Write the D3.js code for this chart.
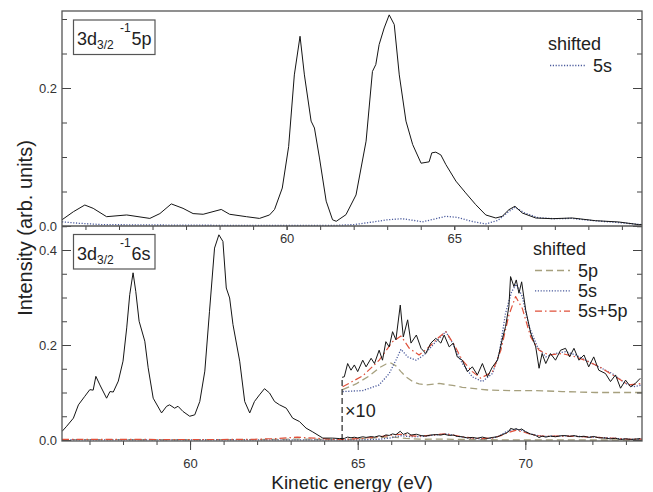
<!DOCTYPE html>
<html>
<head>
  <meta charset="utf-8">
  <script src="https://d3js.org/d3.v7.min.js"></script>
  <style>
    body { margin: 0; background: #fff; }
    svg { font-family: "Liberation Sans", Arial, sans-serif; }
  </style>
</head>
<body>
<script>
  // upper panel: 3d3/2^-1 5p spectrum and shifted 5s curve
  const topEnergy = [53.3, 53.64, 53.98, 54.23, 54.63, 55.23, 55.92, 56.22, 56.56, 56.91, 57.21, 57.51, 58.05, 58.3, 58.8,
    59.19, 59.49, 59.64, 59.87, 60.06, 60.23, 60.4, 60.53, 60.73, 60.83, 60.98, 61.18, 61.37, 61.48, 61.77, 62.07, 62.37,
    62.56, 62.66, 62.76, 62.91, 63.06, 63.21, 63.36, 63.56, 63.76, 64.01, 64.25, 64.33, 64.45, 64.6, 64.75, 65.05, 65.34,
    65.64, 65.94, 66.24, 66.43, 66.63, 66.81, 67.03, 67.43, 67.92, 68.52, 69.21, 69.91, 70.5, 70.6];
  const topIntensity = [0.009, 0.0207, 0.0304, 0.0256, 0.0135, 0.016, 0.011, 0.018, 0.032, 0.0256, 0.018, 0.017, 0.024, 0.017, 0.0135,
    0.011, 0.016, 0.024, 0.055, 0.115, 0.219, 0.275, 0.219, 0.152, 0.142, 0.0986, 0.036, 0.009, 0.0068, 0.0164, 0.045, 0.123,
    0.224, 0.234, 0.263, 0.287, 0.306, 0.292, 0.219, 0.152, 0.118, 0.091, 0.093, 0.106, 0.107, 0.103, 0.089, 0.065, 0.048,
    0.031, 0.016, 0.0116, 0.014, 0.0236, 0.0286, 0.0188, 0.0116, 0.0106, 0.0116, 0.0077, 0.0058, 0.002, 0.002];
  const top5sEnergy = [53.3, 53.8, 54.5, 56, 58, 60, 61.5, 62, 62.6, 63, 63.45, 63.8, 64.04, 64.4, 64.75, 65.1, 65.5, 65.94,
    66.3, 66.6, 66.81, 67.1, 67.5, 68, 68.5, 69.2, 69.9, 70.6];
  const top5s = [0.006, 0.004, 0.002, 0.0015, 0.001, 0.001, 0.001, 0.002, 0.006, 0.009, 0.0106, 0.008, 0.006, 0.01, 0.014, 0.0125,
    0.007, 0.003, 0.008, 0.02, 0.027, 0.019, 0.012, 0.0105, 0.011, 0.0075, 0.005, 0.002];

  // lower panel: 3d3/2^-1 6s spectrum
  const lowEnergy = [56.18, 56.32, 56.52, 56.67, 56.86, 57.01, 57.11, 57.19, 57.31, 57.51, 57.61, 57.71, 57.86, 58, 58.11, 58.2,
    58.3, 58.38, 58.48, 58.65, 58.75, 58.9, 59.15, 59.3, 59.39, 59.54, 59.64, 59.79, 59.99, 60.14, 60.29, 60.44, 60.58, 60.73,
    60.86, 60.98, 61.08, 61.18, 61.28, 61.48, 61.63, 61.78, 61.92, 62.07, 62.22, 62.37, 62.52, 62.67, 62.87, 63.06, 63.26,
    63.46, 63.66, 63.96, 64.25, 64.45,
    64.535, 64.6, 64.7, 64.8, 64.9, 65, 65.15, 65.25, 65.4, 65.5, 65.64, 65.74, 65.84, 65.94, 66.04, 66.14, 66.27, 66.36,
    66.49, 66.59, 66.75, 66.89, 67.03, 67.18, 67.33, 67.48, 67.58, 67.73, 67.85, 67.97, 68.12, 68.27, 68.42, 68.57, 68.72,
    68.87, 69.02, 69.17, 69.31, 69.41, 69.51, 69.56, 69.66, 69.73, 69.81, 69.89, 70.01, 70.16, 70.31, 70.41, 70.5, 70.61,
    70.75, 70.9, 71.05, 71.2, 71.32, 71.45, 71.6, 71.75, 71.89, 72.04, 72.19, 72.39, 72.54, 72.69, 72.84, 72.99, 73.14,
    73.28, 73.43];
  const lowIntensity = [0.018, 0.029, 0.046, 0.074, 0.092, 0.106, 0.105, 0.134, 0.116, 0.088, 0.102, 0.101, 0.124, 0.166, 0.236, 0.306,
    0.352, 0.313, 0.25, 0.208, 0.152, 0.088, 0.057, 0.071, 0.074, 0.067, 0.071, 0.06, 0.05, 0.053, 0.081, 0.145, 0.271, 0.404,
    0.432, 0.418, 0.32, 0.299, 0.243, 0.166, 0.081, 0.057, 0.081, 0.095, 0.108, 0.099, 0.081, 0.074, 0.067, 0.046, 0.039,
    0.025, 0.017, 0.004, 0.004, 0.003,
    0.0032, 0.0033, 0.0061, 0.0047, 0.0058, 0.0044, 0.0068, 0.0054, 0.0072, 0.0061, 0.0089, 0.0068, 0.0107, 0.0096, 0.0128,
    0.0111, 0.0184, 0.0117, 0.0153, 0.0104, 0.0121, 0.0093, 0.0082, 0.0104, 0.0114, 0.0104, 0.0121, 0.0096, 0.0104, 0.0075,
    0.0068, 0.0044, 0.0054, 0.0037, 0.0061, 0.0033, 0.0054, 0.0068, 0.0111, 0.0139, 0.0181, 0.0244, 0.0223, 0.0237, 0.0209,
    0.0233, 0.0174, 0.0125, 0.0096, 0.0051, 0.0082, 0.0061, 0.0082, 0.0068, 0.0089, 0.0093, 0.0075, 0.0093, 0.0068, 0.0079,
    0.0054, 0.0075, 0.0047, 0.004, 0.0023, 0.0037, 0.0009, 0.0026, 0.0012, 0.0019, 0.003];

  // shifted model curves for the lower panel
  const fit5pEnergy = [56.18, 58, 60, 62, 62.8, 63.3, 63.8, 64.2, 64.55, 64.95, 65.35, 65.64, 65.85, 65.99, 66.14, 66.29, 66.44,
    66.64, 66.83, 67.03, 67.43, 67.83, 68.12, 68.92, 69.61, 70.31, 71.1, 72.09, 73.48];
  const fit5p = [0.0008, 0.0006, 0.0005, 0.0008, 0.0015, 0.002, 0.0015, 0.0008, 0.0006, 0.0018, 0.0035, 0.0052, 0.006, 0.0062,
    0.0056, 0.0044, 0.0033, 0.0023, 0.0018, 0.0016, 0.0019, 0.0015, 0.0011, 0.0005, 0.0004, 0.0004, 0.0002, 0, 0];
  const fit5sEnergy = [56.18, 60, 63, 64.2, 64.55, 65.15, 65.64, 65.94, 66.14, 66.29, 66.49, 66.74, 66.98, 67.33, 67.63, 67.83,
    68.12, 68.42, 68.72, 69.02, 69.22, 69.41, 69.59, 69.73, 69.91, 70.11, 70.36, 70.61, 70.9, 71.2, 71.5, 71.8, 72.19, 72.59,
    72.99, 73.23, 73.48];
  const fit5s = [0.0005, 0.0003, 0.0002, 0.0002, 0.0002, 0.0004, 0.0016, 0.004, 0.0068, 0.0091, 0.0075, 0.0068, 0.0079, 0.0107,
    0.0128, 0.0104, 0.0061, 0.0033, 0.0023, 0.004, 0.0082, 0.0167, 0.0212, 0.0228, 0.0202, 0.0139, 0.0096, 0.0075, 0.0082,
    0.0086, 0.0079, 0.0068, 0.0054, 0.004, 0.0019, 0.0012, 0.0016];
  const fitSumEnergy = [56.18, 58, 60, 61.8, 62.6, 63.2, 63.7, 64.2, 64.55, 65.15, 65.64, 66.04, 66.29, 66.54, 66.83, 67.13, 67.43,
    67.63, 67.88, 68.12, 68.42, 68.67, 69.02, 69.27, 69.51, 69.71, 69.91, 70.16, 70.41, 70.7, 71.1, 71.5, 71.89, 72.29, 72.69,
    73.08, 73.48];
  const fitSum = [0.0015, 0.0012, 0.001, 0.0012, 0.003, 0.006, 0.004, 0.0015, 0.0012, 0.0035, 0.0068, 0.0107, 0.0119, 0.0093,
    0.0079, 0.0096, 0.0117, 0.0128, 0.01, 0.0068, 0.0044, 0.003, 0.0044, 0.0089, 0.0163, 0.0202, 0.0177, 0.0117, 0.0089,
    0.0079, 0.0082, 0.0075, 0.0065, 0.0051, 0.0033, 0.0016, 0.0019];

  // magnified copy of the lower panel above this energy
  const zoomFrom = 64.5;
  const zoomFactor = 10;
  const zoomOffset = 0.1;

  const width = 653, height = 492;
  const left = 62, right = 642;
  const topY0 = 11, midY = 226, lowY1 = 440;

  const svg = d3.select("body").append("svg")
    .attr("width", width)
    .attr("height", height);

  const xTop = d3.scaleLinear().domain([53.3, 70.6]).range([left, right]);
  const xLow = d3.scaleLinear().domain([56.18, 73.48]).range([left, right]);
  const yTop = d3.scaleLinear().domain([0, (midY - topY0) / 690]).range([midY, topY0]);
  const yLow = d3.scaleLinear().domain([0, (lowY1 - midY) / 475]).range([lowY1, midY]);

  const styles = {
    data: { color: "#151515", dash: null, w: 1 },
    s5: { color: "#4a5a9c", dash: "1.2,1.6", w: 1.3 },
    p5: { color: "#a6a07e", dash: "7,4", w: 1.3 },
    sum: { color: "#e0503a", dash: "7,3,1.5,3", w: 1.2 }
  };

  const defs = svg.append("defs");
  defs.append("clipPath").attr("id", "clipTop").append("rect")
    .attr("x", left).attr("y", topY0).attr("width", right - left).attr("height", midY - topY0);
  defs.append("clipPath").attr("id", "clipLow").append("rect")
    .attr("x", left).attr("y", midY).attr("width", right - left).attr("height", lowY1 - midY + 1);

  function pairs(xs, ys) {
    return xs.map((e, i) => [e, ys[i]]);
  }

  function drawCurve(g, pts, x, y, st) {
    g.append("path")
      .datum(pts)
      .attr("fill", "none")
      .attr("stroke", st.color)
      .attr("stroke-width", st.w)
      .attr("stroke-dasharray", st.dash)
      .attr("stroke-linejoin", "round")
      .attr("d", d3.line().x(d => x(d[0])).y(d => y(d[1])));
  }

  // upper panel curves
  const gTop = svg.append("g").attr("clip-path", "url(#clipTop)");
  drawCurve(gTop, pairs(top5sEnergy, top5s), xTop, yTop, styles.s5);
  drawCurve(gTop, pairs(topEnergy, topIntensity), xTop, yTop, styles.data);

  // lower panel curves, plain and x10
  const gLow = svg.append("g").attr("clip-path", "url(#clipLow)");
  const yZoom = v => yLow(zoomOffset + zoomFactor * v);
  const lowSets = [
    [pairs(fit5pEnergy, fit5p), styles.p5],
    [pairs(fit5sEnergy, fit5s), styles.s5],
    [pairs(fitSumEnergy, fitSum), styles.sum],
    [pairs(lowEnergy, lowIntensity), styles.data]
  ];
  lowSets.forEach(([pts, st]) => drawCurve(gLow, pts, xLow, yLow, st));
  lowSets.forEach(([pts, st]) => drawCurve(gLow, pts.filter(d => d[0] >= zoomFrom), xLow, yZoom, st));

  // marker where the magnified part begins
  const firstZoom = pairs(lowEnergy, lowIntensity).find(d => d[0] >= zoomFrom);
  svg.append("line")
    .attr("x1", xLow(firstZoom[0])).attr("x2", xLow(firstZoom[0]))
    .attr("y1", yLow(0)).attr("y2", yZoom(firstZoom[1]))
    .attr("stroke", "#111").attr("stroke-width", 1.1).attr("stroke-dasharray", "6,3");
  svg.append("text")
    .attr("x", xLow(firstZoom[0]) + 3).attr("y", 417)
    .attr("font-size", 18).attr("fill", "#222")
    .text("×" + zoomFactor);

  // axes
  const tickColor = "#444";
  function yAxes(y, maxV) {
    const minor = d3.range(0, maxV, 0.05);
    const major = d3.range(0, maxV, 0.2);
    svg.append("g").attr("transform", `translate(${left},0)`)
      .call(d3.axisLeft(y).tickValues(minor).tickSize(-5).tickFormat(""));
    svg.append("g").attr("transform", `translate(${left},0)`)
      .call(d3.axisLeft(y).tickValues(major).tickSize(-9).tickPadding(5).tickFormat(d3.format(".1f")));
    svg.append("g").attr("transform", `translate(${right},0)`)
      .call(d3.axisRight(y).tickValues(minor).tickSize(-5).tickFormat(""));
    svg.append("g").attr("transform", `translate(${right},0)`)
      .call(d3.axisRight(y).tickValues(major).tickSize(-9).tickFormat(""));
  }
  yAxes(yTop, yTop.domain()[1]);
  yAxes(yLow, yLow.domain()[1]);

  svg.append("g").attr("transform", `translate(0,${midY})`)
    .call(d3.axisBottom(xTop).tickValues(d3.range(54, 71, 1)).tickSize(4).tickFormat(""));
  svg.append("g").attr("transform", `translate(0,${midY})`)
    .call(d3.axisBottom(xTop).tickValues([60, 65]).tickSize(4).tickPadding(3.5).tickFormat(d3.format("d")));
  svg.append("g").attr("transform", `translate(0,${lowY1 + 1})`)
    .call(d3.axisBottom(xLow).tickValues(d3.range(57, 74, 1)).tickSize(4).tickFormat(""));
  svg.append("g").attr("transform", `translate(0,${lowY1 + 1})`)
    .call(d3.axisBottom(xLow).tickValues([60, 65, 70]).tickSize(9).tickPadding(8.5).tickFormat(d3.format("d")));

  svg.selectAll(".domain").remove();
  svg.selectAll(".tick line").attr("stroke", tickColor);
  svg.selectAll(".tick text").attr("font-size", 13).attr("fill", "#333")
    .attr("font-family", "Liberation Sans, Arial, sans-serif");

  // frame
  svg.append("rect")
    .attr("x", left).attr("y", topY0).attr("width", right - left).attr("height", lowY1 + 1 - topY0)
    .attr("fill", "none").attr("stroke", "#555").attr("stroke-width", 1.3);
  svg.append("line")
    .attr("x1", left).attr("x2", right).attr("y1", midY).attr("y2", midY)
    .attr("stroke", "#555").attr("stroke-width", 1.3);

  // axis titles
  svg.append("text")
    .attr("transform", "translate(32,228) rotate(-90)")
    .attr("text-anchor", "middle").attr("font-size", 20).attr("fill", "#222")
    .text("Intensity (arb. units)");
  svg.append("text")
    .attr("x", 352).attr("y", 488.5)
    .attr("text-anchor", "middle").attr("font-size", 19).attr("fill", "#222")
    .text("Kinetic energy (eV)");

  // panel labels
  function stateLabel(boxY, base, last) {
    svg.append("rect")
      .attr("x", 73.5).attr("y", boxY).attr("width", 81.5).attr("height", 34.5)
      .attr("fill", "#fff").attr("stroke", "#555").attr("stroke-width", 1.2);
    const t = (x, y, size, s) => svg.append("text")
      .attr("x", x).attr("y", y).attr("font-size", size).attr("fill", "#222").text(s);
    t(77, base, 18, "3d");
    t(97, base + 4.3, 12, "3/2");
    t(120, base - 13.3, 12, "-1");
    t(131.5, base, 18, last);
  }
  stateLabel(20, 45, "5p");
  stateLabel(234.5, 260, "6s");

  // legends
  function legend(x, y, rows) {
    svg.append("text").attr("x", x).attr("y", y).attr("font-size", 18).attr("fill", "#222").text("shifted");
    rows.forEach((r, i) => {
      const ly = y + 15.5 + i * 20.3;
      svg.append("line")
        .attr("x1", x + 2).attr("x2", x + 37).attr("y1", ly).attr("y2", ly)
        .attr("stroke", r.st.color).attr("stroke-width", r.st.w).attr("stroke-dasharray", r.st.dash);
      svg.append("text").attr("x", x + 45).attr("y", ly + 6)
        .attr("font-size", 18).attr("fill", "#222").text(r.name);
    });
  }
  legend(548, 50, [{ name: "5s", st: styles.s5 }]);
  legend(533, 255, [
    { name: "5p", st: styles.p5 },
    { name: "5s", st: styles.s5 },
    { name: "5s+5p", st: styles.sum }
  ]);
</script>
</body>
</html>
